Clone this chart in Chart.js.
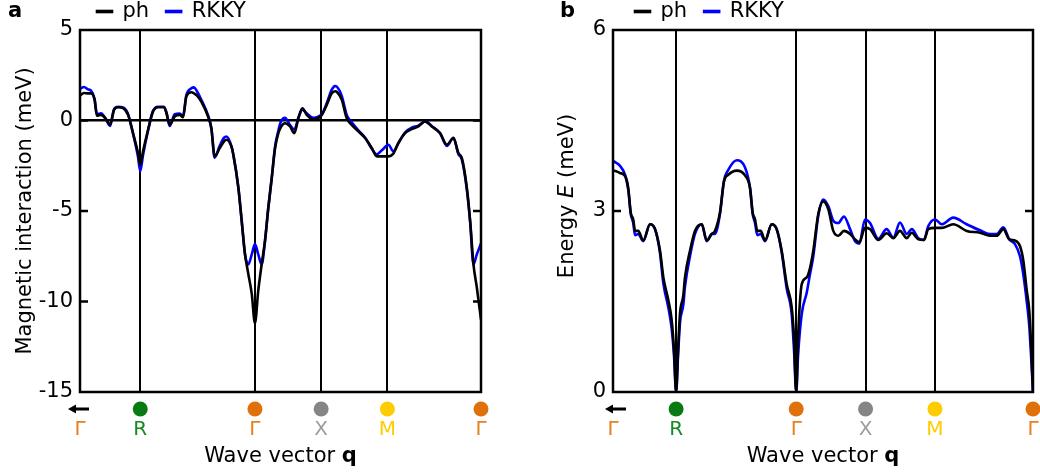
<!DOCTYPE html>
<html>
<head>
<meta charset="utf-8">
<script src="https://cdn.jsdelivr.net/npm/chart.js@4.4.1/dist/chart.umd.min.js"></script>
<style>
  html, body { margin: 0; padding: 0; background: #fff; }
  #wrap { position: relative; width: 1040px; height: 473px; }
  .panel { position: absolute; top: 0; width: 520px; height: 473px; }
</style>
</head>
<body>
<div id="wrap">
  <div class="panel" style="left:0"><canvas id="chartA" width="520" height="473"></canvas></div>
  <div class="panel" style="left:520px"><canvas id="chartB" width="520" height="473"></canvas></div>
</div>
<script>
// high-symmetry points along the path (units of 2pi/a)
const qNodes = [0, 0.455, 1.321, 1.821, 2.321, 3.028];
const nodeNames = ['Γ', 'R', 'Γ', 'X', 'M', 'Γ'];

// panel a: magnetic interaction (meV)
const qA = [0, 0.030, 0.060, 0.083, 0.110, 0.128, 0.159, 0.185, 0.204, 0.227,
  0.257, 0.287, 0.325, 0.363, 0.400, 0.438, 0.455, 0.476, 0.514, 0.551,
  0.589, 0.634, 0.653, 0.677, 0.715, 0.753, 0.778, 0.803, 0.841, 0.861,
  0.884, 0.916, 0.967, 0.992, 1.017, 1.055, 1.088, 1.106, 1.143, 1.158,
  1.196, 1.221, 1.246, 1.271, 1.297, 1.321, 1.346, 1.372, 1.397, 1.422,
  1.448, 1.473, 1.498, 1.518, 1.548, 1.586, 1.619, 1.649, 1.679, 1.712,
  1.762, 1.826, 1.863, 1.901, 1.926, 1.939, 1.977, 2.014, 2.052, 2.102,
  2.153, 2.203, 2.241, 2.279, 2.329, 2.366, 2.404, 2.455, 2.505, 2.555,
  2.606, 2.656, 2.719, 2.770, 2.820, 2.857, 2.883, 2.921, 2.946, 2.971,
  2.996, 3.028];
const phA = [1.38, 1.52, 1.50, 1.50, 1.15, 0.26, 0.31, 0.18, 0.00, -0.24,
  0.59, 0.73, 0.68, 0.31, -0.70, -1.80, -2.45, -1.70, -0.51, 0.49,
  0.73, 0.73, 0.40, -0.24, 0.22, 0.31, 0.18, 1.32, 1.56, 1.50,
  1.38, 1.04, 0.22, -0.42, -1.98, -1.52, -1.15, -1.06, -1.43, -1.89,
  -3.72, -5.55, -7.38, -8.48, -9.58, -11.20, -9.40, -7.93, -6.65, -4.82,
  -3.17, -1.52, -0.70, -0.35, -0.15, -0.33, -0.70, 0.13, 0.68, 0.31,
  0.07, 0.31, 0.86, 1.50, 1.62, 1.59, 1.14, 0.13, -0.24, -0.60,
  -0.97, -1.52, -1.98, -1.98, -1.98, -1.83, -1.25, -0.70, -0.48, -0.33,
  -0.05, -0.33, -0.70, -1.34, -0.97, -1.80, -2.07, -3.72, -5.55, -7.93,
  -9.20, -11.00];
const rkkyA = [1.75, 1.85, 1.72, 1.65, 1.20, 0.35, 0.40, 0.20, -0.05, -0.30,
  0.62, 0.76, 0.72, 0.35, -0.70, -2.00, -2.80, -1.90, -0.55, 0.52,
  0.76, 0.76, 0.45, -0.30, 0.35, 0.38, 0.25, 1.40, 1.78, 1.83,
  1.60, 1.15, 0.28, -0.45, -2.05, -1.40, -0.95, -0.88, -1.40, -1.89,
  -3.72, -5.55, -7.40, -7.95, -7.40, -6.83, -7.40, -7.95, -6.65, -4.82,
  -3.17, -1.45, -0.55, -0.05, 0.15, -0.25, -0.50, 0.15, 0.60, 0.40,
  0.15, 0.35, 0.95, 1.70, 1.90, 1.87, 1.35, 0.30, -0.10, -0.55,
  -0.95, -1.55, -1.87, -1.65, -1.34, -1.70, -1.25, -0.65, -0.40, -0.28,
  -0.05, -0.30, -0.70, -1.40, -0.95, -1.85, -2.15, -3.80, -5.60, -7.95,
  -7.40, -6.80];
const yTicksA = [-15, -10, -5, 0, 5];

// panel b: energy E (meV)
const qB = [0, 0.022, 0.050, 0.087, 0.110, 0.128, 0.146, 0.159, 0.182, 0.218,
  0.267, 0.303, 0.339, 0.363, 0.399, 0.423, 0.440, 0.455, 0.469, 0.483,
  0.507, 0.519, 0.555, 0.591, 0.640, 0.676, 0.712, 0.735, 0.771, 0.800,
  0.831, 0.892, 0.952, 0.988, 1.007, 1.024, 1.040, 1.065, 1.096, 1.144,
  1.180, 1.216, 1.252, 1.288, 1.305, 1.321, 1.334, 1.361, 1.397, 1.420,
  1.444, 1.480, 1.516, 1.552, 1.588, 1.624, 1.665, 1.709, 1.745, 1.776,
  1.817, 1.853, 1.913, 1.973, 2.021, 2.069, 2.118, 2.154, 2.201, 2.242,
  2.273, 2.322, 2.370, 2.453, 2.550, 2.646, 2.718, 2.766, 2.814, 2.857,
  2.898, 2.934, 2.958, 2.983, 3.001, 3.014, 3.028];
const phB = [3.67, 3.66, 3.63, 3.58, 3.38, 2.97, 2.86, 2.67, 2.67, 2.51,
  2.78, 2.70, 2.34, 1.90, 1.52, 1.19, 0.69, 0.00, 0.69, 1.30,
  1.60, 1.90, 2.34, 2.67, 2.78, 2.51, 2.62, 2.67, 2.97, 3.49,
  3.60, 3.67, 3.59, 3.38, 2.97, 2.86, 2.67, 2.67, 2.51, 2.78,
  2.70, 2.34, 1.79, 1.41, 0.90, 0.00, 0.90, 1.79, 1.90, 2.05,
  2.34, 2.95, 3.16, 3.03, 2.67, 2.59, 2.67, 2.62, 2.53, 2.48,
  2.72, 2.70, 2.52, 2.63, 2.55, 2.67, 2.55, 2.64, 2.53, 2.52,
  2.70, 2.72, 2.72, 2.78, 2.67, 2.64, 2.59, 2.59, 2.70, 2.53,
  2.51, 2.42, 2.18, 1.68, 1.35, 0.80, 0.00];
const rkkyB = [3.83, 3.80, 3.75, 3.60, 3.35, 2.95, 2.80, 2.60, 2.62, 2.50,
  2.78, 2.70, 2.30, 1.80, 1.40, 1.05, 0.60, 0.00, 0.60, 1.15,
  1.45, 1.75, 2.25, 2.62, 2.78, 2.50, 2.62, 2.62, 2.95, 3.50,
  3.68, 3.84, 3.72, 3.38, 2.95, 2.80, 2.60, 2.62, 2.50, 2.78,
  2.70, 2.32, 1.72, 1.30, 0.70, 0.00, 0.60, 1.30, 1.65, 1.95,
  2.25, 2.92, 3.19, 3.08, 2.84, 2.80, 2.91, 2.70, 2.50, 2.46,
  2.86, 2.80, 2.54, 2.70, 2.56, 2.81, 2.62, 2.70, 2.55, 2.52,
  2.75, 2.86, 2.78, 2.89, 2.78, 2.68, 2.62, 2.62, 2.73, 2.53,
  2.45, 2.25, 1.95, 1.50, 1.10, 0.60, 0.00];
const yTicksB = [0, 3, 6];

const FONT = '"DejaVu Sans", Verdana, sans-serif';
const nodeDot = ['#000', '#087a12', '#e0700a', '#858585', '#ffcc00', '#e0700a'];
const nodeText = ['#e8801e', '#148a22', '#e8801e', '#9c9c9c', '#ffcc00', '#e8801e'];

Chart.defaults.font.family = FONT;
Chart.defaults.font.size = 21;
Chart.defaults.color = '#000';

// frame, inward ticks, path markers, titles with mixed styles
const decor = {
  id: 'decor',
  afterLayout(chart, args, o) {
    const lg = chart.legend;
    if (!lg) return;
    const p = lg.options.labels.padding;
    const w = lg.right - lg.left;
    lg.left = o.legendX - p;
    lg.right = lg.left + w + 200;
    lg.top += 2;
    lg.bottom += 2;
  },
  afterDraw(chart, args, o) {
    const {ctx, chartArea: a, scales: {x, y}} = chart;
    ctx.save();
    ctx.strokeStyle = '#000';
    ctx.lineWidth = 2.5;
    ctx.strokeRect(a.left, a.top, a.right - a.left, a.bottom - a.top);

    y.ticks.forEach(t => {
      const py = y.getPixelForValue(t.value);
      if (Math.abs(py - a.top) < 1 || Math.abs(py - a.bottom) < 1) return;
      ctx.beginPath();
      ctx.moveTo(a.left, py); ctx.lineTo(a.left + 8, py);
      ctx.moveTo(a.right, py); ctx.lineTo(a.right - 8, py);
      ctx.stroke();
    });

    const my = a.bottom + 17;
    qNodes.forEach((q, i) => {
      const px = x.getPixelForValue(q);
      if (i === 0) {
        ctx.lineWidth = 3;
        ctx.beginPath();
        ctx.moveTo(px + o.arrow[1], my);
        ctx.lineTo(px + o.arrow[0] + 5, my);
        ctx.stroke();
        ctx.fillStyle = '#000';
        ctx.beginPath();
        ctx.moveTo(px + o.arrow[0], my);
        ctx.lineTo(px + o.arrow[0] + 8, my - 4.5);
        ctx.lineTo(px + o.arrow[0] + 8, my + 4.5);
        ctx.closePath();
        ctx.fill();
      } else {
        ctx.fillStyle = nodeDot[i];
        ctx.beginPath();
        ctx.arc(px, my, 7.5, 0, Math.PI * 2);
        ctx.fill();
      }
    });

    ctx.fillStyle = '#000';
    ctx.textBaseline = 'alphabetic';
    ctx.textAlign = 'left';
    ctx.font = 'bold 21px ' + FONT;
    ctx.fillText(o.letter, o.letterX, 17);

    const drawParts = (parts, cx, cy) => {
      let total = 0;
      parts.forEach(p => { ctx.font = p[1]; total += ctx.measureText(p[0]).width; });
      let sx = cx - total / 2;
      parts.forEach(p => {
        ctx.font = p[1];
        ctx.fillText(p[0], sx, cy);
        sx += ctx.measureText(p[0]).width;
      });
    };
    const normal = '21px ' + FONT;
    drawParts([['Wave vector ', normal], ['q', 'bold 21px ' + FONT]], (a.left + a.right) / 2, 462);

    if (o.yTitle) {
      ctx.save();
      ctx.translate(o.yTitle.x, o.yTitle.y);
      ctx.rotate(-Math.PI / 2);
      ctx.textBaseline = 'middle';
      drawParts(o.yTitle.parts, 0, 0);
      ctx.restore();
    }
    ctx.restore();
  }
};

function makeChart(id, o) {
  const pts = (ys) => o.q.map((q, i) => ({x: q, y: ys[i]}));
  return new Chart(document.getElementById(id), {
    type: 'line',
    data: {
      datasets: [
        {label: 'ph', data: pts(o.ph), borderColor: '#000000', backgroundColor: '#000000',
         borderWidth: 2.6, pointRadius: 0, cubicInterpolationMode: 'monotone'},
        {label: 'RKKY', data: pts(o.rkky), borderColor: '#0000ff', backgroundColor: '#0000ff',
         borderWidth: 2.6, pointRadius: 0, cubicInterpolationMode: 'monotone'}
      ]
    },
    options: {
      responsive: false,
      animation: false,
      events: [],
      layout: {padding: {top: -18, left: 0, right: o.padRight, bottom: 0}},
      plugins: {
        legend: {
          position: 'top', align: 'start', fullSize: false,
          labels: {boxWidth: 15, boxHeight: 1, padding: 17, color: '#000', font: {size: 21}}
        },
        tooltip: {enabled: false},
        decor: o.decor
      },
      scales: {
        x: {
          type: 'linear', min: 0, max: qNodes[qNodes.length - 1],
          afterBuildTicks: s => { s.ticks = qNodes.map(v => ({value: v})); },
          afterFit: s => { s.height = 81; s.paddingLeft = 0; s.paddingRight = 0; },
          grid: {color: '#000', lineWidth: 2, drawTicks: true, tickLength: 26, tickColor: 'rgba(0,0,0,0)'},
          border: {display: false},
          ticks: {
            autoSkip: false, maxRotation: 0, padding: 0, font: {size: 20},
            color: c => nodeText[c.index],
            callback: (v, i) => nodeNames[i]
          }
        },
        y: {
          type: 'linear', min: o.yTicks[0], max: o.yTicks[o.yTicks.length - 1],
          afterBuildTicks: s => { s.ticks = o.yTicks.map(v => ({value: v})); },
          afterFit: s => { s.width = o.axisW; },
          grid: o.zeroLine
            ? {drawTicks: false, lineWidth: 2.5, color: c => (c.tick && c.tick.value === 0) ? '#000' : 'rgba(0,0,0,0)'}
            : {display: false, drawTicks: false},
          border: {display: false},
          ticks: {padding: 7, font: {size: 21}, color: '#000'},
          title: o.yTitleText
            ? {display: true, text: o.yTitleText, color: '#000', font: {size: 21}, padding: {top: 13, bottom: 0}}
            : {display: false}
        }
      }
    },
    plugins: [decor]
  });
}

makeChart('chartA', {
  q: qA, ph: phA, rkky: rkkyA, yTicks: yTicksA,
  axisW: 80, padRight: 39, zeroLine: true,
  yTitleText: 'Magnetic interaction (meV)',
  decor: {letter: 'a', letterX: 8, legendX: 97, arrow: [-12, 9]}
});

makeChart('chartB', {
  q: qB, ph: phB, rkky: rkkyB, yTicks: yTicksB,
  axisW: 93, padRight: 7, zeroLine: false,
  decor: {
    letter: 'b', letterX: 40, legendX: 115, arrow: [-8, 13],
    yTitle: {x: 48, y: 196, parts: [['Energy ', '21px ' + FONT], ['E', 'italic 21px ' + FONT], [' (meV)', '21px ' + FONT]]}
  }
});
</script>
</body>
</html>
